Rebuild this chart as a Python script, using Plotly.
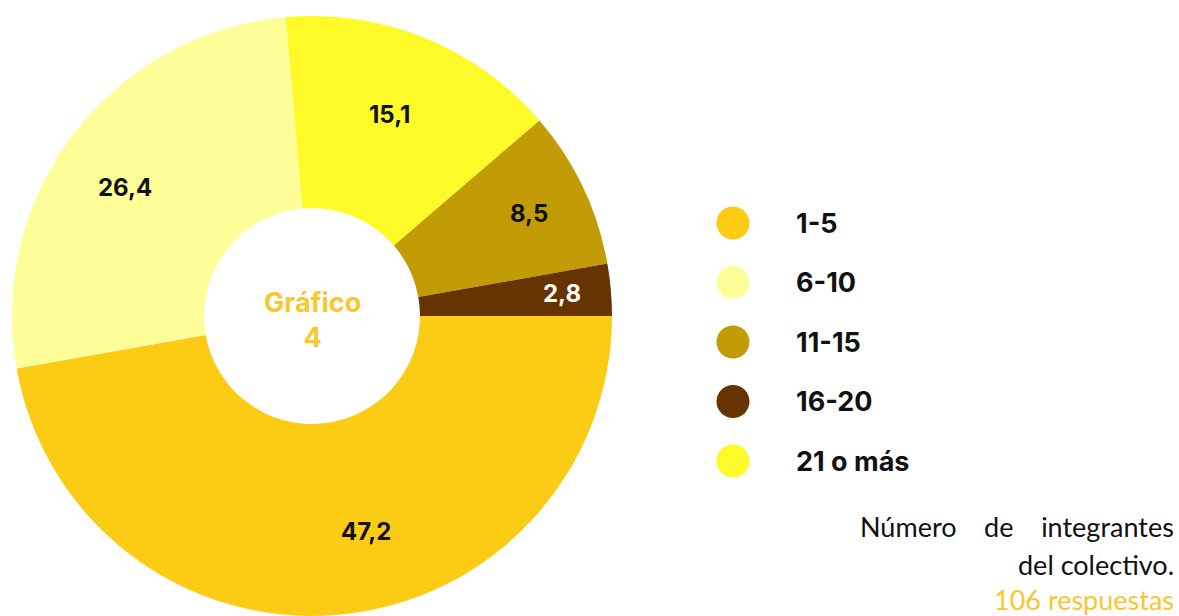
import math
import plotly.graph_objects as go

# ---- data (slice order as drawn, clockwise from 3 o'clock) ----
slice_labels = ["1-5", "6-10", "21 o más", "11-15", "16-20"]
slice_values = [47.2, 26.4, 15.1, 8.5, 2.8]
value_text = ["47,2", "26,4", "15,1", "8,5", "2,8"]

# ---- legend order ----
legend_labels = ["1-5", "6-10", "11-15", "16-20", "21 o más"]

# ---- caption ----
caption_lines = ["Número\u00a0\u00a0\u00a0\u00a0de\u00a0\u00a0\u00a0\u00a0integrantes", "del colectivo.", "106 respuestas"]

# ---- styles ----
colors = {
    "1-5": "#FCCB14",
    "6-10": "#FEFE99",
    "11-15": "#C29C05",
    "16-20": "#673300",
    "21 o más": "#FEFA28",
}
text_colors = {"16-20": "#FFFFFF"}
caption_colors = ["#111111", "#111111", "#F9C531"]
caption_y = [526, 564, 599]
label_r = [0.74, 0.755, 0.72, 0.80, 0.835]      # radial position of value labels (fraction of outer radius)
label_da = [-9, -3, -1, 0, 0]                      # small angular nudges (deg)

W, H = 1179, 616
cx, cy, R = 312, 316, 300

fig = go.Figure()
fig.add_trace(go.Pie(
    labels=slice_labels,
    values=slice_values,
    sort=False,
    direction="clockwise",
    rotation=90,
    hole=0.36,
    marker=dict(colors=[colors[l] for l in slice_labels], line=dict(width=0)),
    textinfo="none",
    hoverinfo="label+value",
    showlegend=False,
    domain=dict(x=[(cx - R) / W, (cx + R) / W], y=[(H - cy - R) / H, (H - cy + R) / H]),
))

annotations = []
total = sum(slice_values)
cum = 0.0
for i, (lab, v, t) in enumerate(zip(slice_labels, slice_values, value_text)):
    mid = (cum + v / 2) / total * 360 + label_da[i]
    cum += v
    a = math.radians(mid)
    px = cx + R * label_r[i] * math.cos(a)
    py = cy + R * label_r[i] * math.sin(a)
    annotations.append(dict(
        x=px / W, y=1 - py / H, xref="paper", yref="paper", showarrow=False,
        text=f"<b>{t}</b>", xanchor="center", yanchor="middle",
        font=dict(family="Inter", size=24, color=text_colors.get(lab, "#111111")),
    ))

# center title
annotations.append(dict(
    x=cx / W, y=1 - 320 / H, xref="paper", yref="paper", showarrow=False,
    text="<b>Gráfico</b><br><b>4</b>", align="center", xanchor="center", yanchor="middle",
    font=dict(family="Inter", size=27, color="#F9C831"),
))

# manual legend
shapes = []
leg_x, leg_y0, leg_dy, rr = 733, 223, 59.5, 16.5
for i, lab in enumerate(legend_labels):
    yy = leg_y0 + i * leg_dy
    shapes.append(dict(type="circle", xref="paper", yref="paper",
                       x0=(leg_x - rr) / W, x1=(leg_x + rr) / W,
                       y0=1 - (yy + rr) / H, y1=1 - (yy - rr) / H,
                       fillcolor=colors[lab], line=dict(width=0)))
    annotations.append(dict(
        x=794 / W, y=1 - yy / H, xref="paper", yref="paper", showarrow=False,
        text=f"<b>{lab}</b>", xanchor="left", yanchor="middle",
        font=dict(family="Inter", size=27, color="#111111"),
    ))

# caption
for line, col, yy in zip(caption_lines, caption_colors, caption_y):
    annotations.append(dict(
        x=1176 / W, y=1 - yy / H, xref="paper", yref="paper", showarrow=False,
        text=line, align="right", xanchor="right", yanchor="middle",
        font=dict(family="Lato", size=27, color=col),
    ))

fig.update_layout(
    width=W, height=H,
    margin=dict(l=0, r=0, t=0, b=0),
    paper_bgcolor="white", plot_bgcolor="white",
    annotations=annotations, shapes=shapes,
)
fig.write_html("out.html", config={"displayModeBar": False},
               post_script="document.body.style.margin='0px';")
